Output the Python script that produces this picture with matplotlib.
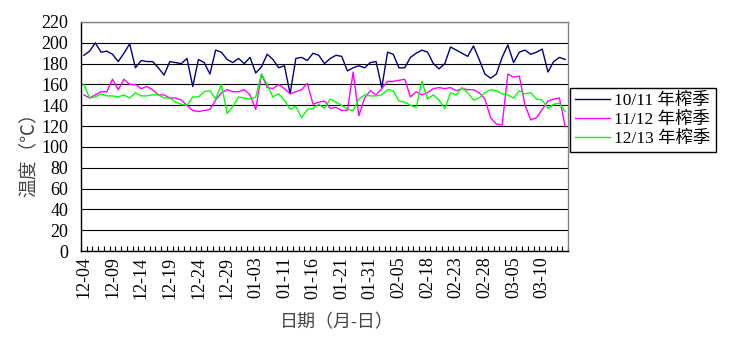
import numpy as np
import matplotlib
matplotlib.use('Agg')
import matplotlib.pyplot as plt

# Chart data
date_labels = ['12-04', '12-09', '12-14', '12-19', '12-24', '12-29', '01-03', '01-11', '01-16',
               '01-21', '01-31', '02-05', '02-18', '02-23', '02-28', '03-05', '03-10']
series_names = ['10/11 年榨季', '11/12 年榨季', '12/13 年榨季']

temp_1011 = [188, 192, 200, 191, 192, 189, 182, 190, 199, 176,
             183, 182, 182, 176, 169, 182, 181, 180, 185, 158,
             184, 181, 170, 193, 191, 184, 181, 185, 180, 186,
             171, 177, 189, 184, 176, 178, 151, 185, 186, 183,
             190, 188, 180, 185, 188, 187, 173, 176, 178, 176,
             181, 182, 157, 191, 189, 176, 176, 186, 190, 193,
             191, 180, 175, 180, 196, 193, 190, 187, 197, 184,
             170, 166, 170, 186, 198, 181, 191, 193, 189, 191,
             194, 172, 182, 186, 184]

temp_1112 = [150, 147, 150, 153, 153, 165, 155, 165, 160, 160,
             156, 158, 155, 150, 150, 147, 147, 145, 140, 135,
             134, 135, 136, 145, 152, 155, 153, 153, 155, 150,
             136, 170, 157, 156, 160, 156, 151, 153, 155, 161,
             141, 143, 144, 137, 138, 135, 135, 172, 130, 147,
             154, 150, 156, 163, 163, 164, 165, 148, 153, 150,
             152, 156, 157, 156, 157, 154, 156, 155, 155, 152,
             146, 128, 122, 121, 170, 167, 168, 140, 126, 128,
             136, 144, 146, 147, 120]

temp_1213 = [160, 147, 148, 151, 149, 149, 148, 150, 147, 152,
             149, 149, 150, 150, 147, 147, 143, 141, 140, 148,
             148, 153, 154, 146, 160, 132, 139, 148, 147, 146,
             148, 170, 160, 148, 151, 145, 136, 139, 128, 136,
             137, 141, 137, 146, 143, 140, 136, 135, 146, 150,
             149, 149, 150, 155, 154, 144, 143, 140, 138, 163,
             146, 150, 145, 137, 152, 150, 157, 152, 145, 147,
             152, 155, 154, 151, 150, 147, 154, 151, 152, 146,
             145, 137, 141, 142, 134]

label_every = 5

plt.rcParams['font.family'] = ['Liberation Serif', 'Noto Sans CJK SC']
plt.rcParams['axes.unicode_minus'] = False

n = len(temp_1011)
x = np.arange(n) + 0.5  # points sit between tick marks, like Excel

fig = plt.figure(figsize=(7.3, 3.38), dpi=100)
ax = fig.add_axes([81 / 730, 1 - 251 / 338, 487 / 730, 229 / 338])

ax.plot(x, temp_1011, color='#000080', lw=1.0, label=series_names[0])
ax.plot(x, temp_1112, color='#FF00FF', lw=1.0, label=series_names[1])
ax.plot(x, temp_1213, color='#00FF00', lw=1.0, label=series_names[2])

ax.set_xlim(0, n)
ax.set_ylim(0, 220)
ax.set_yticks(np.arange(0, 221, 20))
ax.yaxis.grid(True, color='black', lw=0.8)
ax.set_axisbelow(True)

ax.set_xticks(x[::label_every])
ax.set_xticklabels(date_labels, rotation=90, fontsize=13)
ax.set_xticks(np.arange(0, n + 1), minor=True)
ax.tick_params(axis='x', which='major', length=0, pad=4)
ax.tick_params(axis='x', which='minor', direction='in', length=3.5, width=0.8, color='black')
ax.tick_params(axis='y', length=0, labelsize=13, pad=9)

for side in ['left', 'bottom']:
    ax.spines[side].set_color('black')
    ax.spines[side].set_linewidth(1.0)
for side in ['top', 'right']:
    ax.spines[side].set_color('#808080')
    ax.spines[side].set_linewidth(1.0)

fig.text(29 / 730, 1 - 150 / 338, '温度（℃）', rotation=90, ha='center', va='center',
         fontsize=13.5, color='#444444')
fig.text(337 / 730, 1 - 323 / 338, '日期（月-日）', ha='center', va='center',
         fontsize=13, color='#444444')

leg = fig.legend(loc='upper left', bbox_to_anchor=(570 / 730, 1 - 88 / 338), fontsize=12.5,
                 frameon=True, fancybox=False, edgecolor='black', framealpha=1,
                 handlelength=2.0, handletextpad=0.25, borderpad=0.3, labelspacing=0.15,
                 borderaxespad=0)
leg.get_frame().set_linewidth(1.0)

fig.savefig('out.png', dpi=100)
